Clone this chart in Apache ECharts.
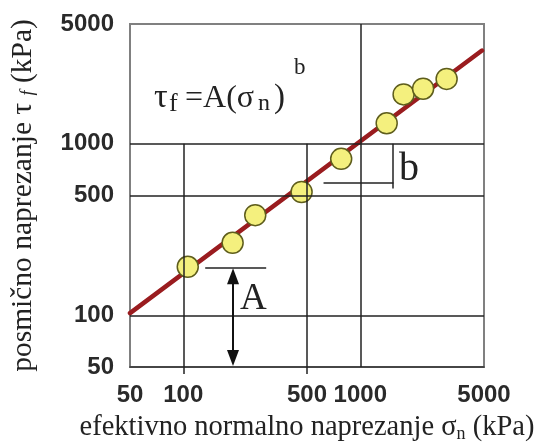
<!DOCTYPE html>
<html><head><meta charset="utf-8">
<script src="https://cdn.jsdelivr.net/npm/echarts@6/dist/echarts.min.js"></script>
<style>html,body{margin:0;padding:0;background:#fff}#c{width:542px;height:445px}</style>
</head><body><div id="c"></div>
<script>
// ---- data ----
const xTicks = [50, 100, 500, 1000, 5000];
const yTicks = [50, 100, 500, 1000, 5000];
const sigmaN = [106, 190, 255, 466, 780, 1410, 1757, 2264, 3075];
const tauF   = [192, 265, 384, 524, 818, 1318, 1943, 2097, 2392];
const fitX = [50, 4870];
const fitY = [103, 3500];
// grid line segments (data units)
const hGrid = [100, 500, 1000];
const vGridFull = [1000];
const vGridPartial = [100, 500];   // drawn from 1000 down to bottom
// annotation anchors (data units)
const bBracket = {x: 1520, yTop: 1000, yBottom: 550, hY: 590, hX0: 620, hX1: 1540};
const aMarker = {x: 191, yLine: 189, yTop: 169, yBottom: 56.4, hX0: 133, hX1: 294};

const chart = echarts.init(document.getElementById('c'), null, {renderer: 'canvas'});
const serif = 'Liberation Serif';
const sans = 'Liberation Sans';
const dark = '#222';

const gridLines = [];
hGrid.forEach(v => gridLines.push({yAxis: v}));
vGridFull.forEach(v => gridLines.push({xAxis: v}));
vGridPartial.forEach(v => gridLines.push([{coord: [v, 1000]}, {coord: [v, 50]}]));

const labelStyle = {fontFamily: sans, fontSize: 24, fontWeight: 'bold', color: '#2a2a2a', margin: 16,
  formatter: v => String(Math.round(v))};

const option = {
  animation: false,
  backgroundColor: '#fff',
  grid: {left: 130, right: 58, top: 24, bottom: 78, show: true, borderColor: '#808080', borderWidth: 2,
    backgroundColor: 'transparent', outerBoundsMode: 'none', containLabel: false},
  xAxis: {
    type: 'log', logBase: 10, min: 50, max: 5000,
    name: 'efektivno normalno naprezanje σ{sub|n} (kPa)',
    nameLocation: 'middle', nameGap: 46,
    nameTextStyle: {fontFamily: serif, fontSize: 28.5, color: dark,
      rich: {sub: {fontFamily: serif, fontSize: 18, color: dark, padding: [12, 0, 0, 0]}}},
    axisLine: {show: true, lineStyle: {color: '#333', width: 1.5}},
    axisTick: {show: true, customValues: vGridPartial, length: 7, inside: false, lineStyle: {color: dark, width: 1.5}},
    minorTick: {show: false},
    splitLine: {show: false},
    axisLabel: Object.assign({customValues: xTicks}, labelStyle)
  },
  yAxis: {
    type: 'log', logBase: 10, min: 50, max: 5000,
    name: 'posmično naprezanje τ {sub|f} (kPa)',
    nameLocation: 'middle', nameGap: 92, nameRotate: 90,
    nameTextStyle: {fontFamily: serif, fontSize: 29.5, color: dark,
      rich: {sub: {fontFamily: serif, fontSize: 18, fontStyle: 'italic', color: dark, padding: [10, 0, 0, 0]}}},
    axisLine: {show: false},
    axisTick: {show: false},
    splitLine: {show: false},
    axisLabel: Object.assign({customValues: yTicks}, labelStyle)
  },
  series: [
    {
      type: 'line', data: [], silent: true,
      markLine: {silent: true, symbol: ['none', 'none'], animation: false,
        label: {show: false}, lineStyle: {color: dark, width: 1.5, type: 'solid'},
        emphasis: {disabled: true},
        data: gridLines.concat([
          [{coord: [bBracket.hX0, bBracket.hY]}, {coord: [bBracket.hX1, bBracket.hY]}],
          [{coord: [bBracket.x, bBracket.yTop]}, {coord: [bBracket.x, bBracket.yBottom]}],
          [{coord: [aMarker.hX0, aMarker.yLine]}, {coord: [aMarker.hX1, aMarker.yLine]}]
        ])}
    },
    {
      type: 'line', data: [], silent: true,
      markLine: {silent: true, symbol: ['triangle', 'triangle'], symbolSize: [12, 16], animation: false,
        label: {show: false}, lineStyle: {color: '#111', width: 2, type: 'solid'}, itemStyle: {color: '#111'},
        emphasis: {disabled: true},
        data: [[{coord: [aMarker.x, aMarker.yTop]}, {coord: [aMarker.x, aMarker.yBottom]}]]}
    },
    {
      type: 'line', data: fitX.map((x, i) => [x, fitY[i]]), symbol: 'none', silent: true, z: 3,
      lineStyle: {color: '#9A1C1F', width: 4.5, cap: 'round'}
    },
    {
      type: 'scatter', data: sigmaN.map((x, i) => [x, tauF[i]]), symbolSize: 21, z: 4,
      itemStyle: {color: '#F4F07E', borderColor: '#5E5D1C', borderWidth: 1.5, opacity: 1}
    }
  ],
  graphic: [
    {type: 'text', style: {text: 'τ', x: 154, y: 98.5, font: '34px "Liberation Serif"', fill: dark, verticalAlign: 'middle'}},
    {type: 'text', style: {text: 'f', x: 169, y: 104.5, font: '26px "Liberation Serif"', fill: dark, verticalAlign: 'middle'}},
    {type: 'text', style: {text: '=A(σ', x: 185, y: 98.5, font: '32px "Liberation Serif"', fill: dark, verticalAlign: 'middle'}},
    {type: 'text', style: {text: 'n', x: 258, y: 104, font: '24px "Liberation Serif"', fill: dark, verticalAlign: 'middle'}},
    {type: 'text', style: {text: ')', x: 274, y: 98.5, font: '33px "Liberation Serif"', fill: dark, verticalAlign: 'middle'}},
    {type: 'text', style: {text: 'b', x: 294, y: 67.5, font: '23px "Liberation Serif"', fill: dark, verticalAlign: 'middle'}},
    {type: 'text', style: {text: 'b', x: 399, y: 169, font: '40px "Liberation Serif"', fill: dark, verticalAlign: 'middle'}},
    {type: 'text', style: {text: 'A', x: 240, y: 299, font: '37px "Liberation Serif"', fill: dark, verticalAlign: 'middle'}}
  ]
};
chart.setOption(option);
</script></body></html>
